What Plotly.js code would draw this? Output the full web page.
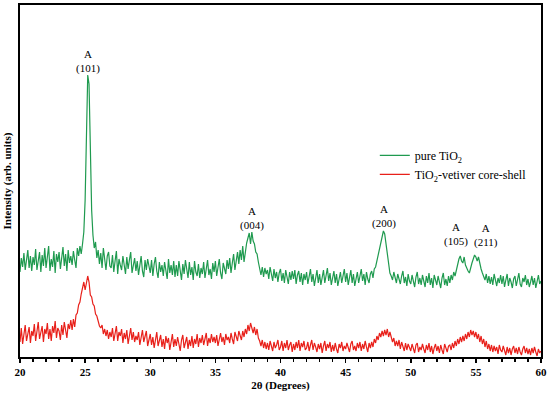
<!DOCTYPE html>
<html>
<head>
<meta charset="utf-8">
<script src="https://cdn.plot.ly/plotly-3.0.1.min.js"></script>
<style>html,body{margin:0;padding:0;background:#fff;}#chart{width:550px;height:396px;}</style>
</head>
<body>
<div id="chart"></div>
<script>
// 2θ scan grid: 20.0° to 60.0° in 0.1° steps
const scanStart = 20, scanStep = 0.1, scanCount = 401;
const twoTheta = Array.from({length: scanCount}, (_, i) => +(scanStart + i * scanStep).toFixed(1));

// pure TiO2 intensity (arb. units)
const pureTiO2 = [
  88,102,93,107,90,99,110,92,104,89,
  103,95,111,90,100,108,88,105,94,112,
  92,104,114,89,101,93,109,87,106,98,
  108,91,103,113,94,106,89,110,97,104,
  95,109,100,92,112,104,114,106,116,128,
  160,235,285,276,205,150,125,112,118,102,
  110,96,107,92,112,99,90,104,108,94,
  92,105,88,99,109,86,101,95,90,104,
  97,86,103,91,100,108,87,96,102,89,
  99,85,96,104,89,83,100,90,101,92,
  87,100,84,96,103,89,82,98,88,95,
  84,98,90,81,101,87,95,85,99,83,
  95,84,99,88,80,96,86,100,90,82,
  98,85,93,80,99,88,84,96,82,92,
  86,98,82,94,100,85,91,81,97,88,
  99,84,93,101,87,81,97,90,86,100,
  91,102,87,97,106,90,99,108,96,110,
  100,114,98,110,117,122,127,116,128,119,
  116,108,106,98,91,85,93,83,92,86,
  90,81,93,84,79,91,82,88,78,87,
  91,79,87,77,90,83,76,88,80,89,
  81,90,76,85,89,78,87,75,86,80,
  88,76,84,91,78,86,74,84,90,77,
  86,75,82,90,77,85,92,79,87,75,
  84,89,77,86,74,82,88,77,85,91,
  78,87,75,84,90,77,86,74,83,88,
  77,85,91,79,86,75,88,81,77,86,
  89,82,91,93,99,106,113,119,124,129,
  126,116,103,93,87,84,80,88,82,77,
  86,79,76,84,89,77,83,74,86,79,
  76,85,78,73,83,88,76,82,75,85,
  79,73,84,77,87,75,82,72,85,78,
  75,84,77,72,82,87,75,81,74,84,
  77,85,80,88,84,91,96,101,104,99,
  97,103,95,91,89,87,93,97,101,105,
  103,99,103,95,91,87,83,80,86,77,
  84,76,83,75,86,79,74,82,77,85,
  76,84,73,80,86,74,82,78,72,81,
  84,74,80,87,76,73,82,78,85,75,
  81,73,78,84,75,82,72,79,85,76,
  79
];

// TiO2-vetiver core-shell intensity (arb. units)
const coreShell = [
  18,32,16,28,35,19,25,33,17,29,
  24,36,19,30,38,21,28,34,18,31,
  26,37,21,31,19,34,27,39,22,32,
  29,20,35,25,38,30,22,36,31,40,
  30,41,33,45,47,55,58,66,71,78,
  70,76,84,78,65,63,56,54,46,44,
  39,34,32,35,26,31,24,30,21,28,
  23,32,19,27,34,19,28,24,31,17,
  27,21,30,16,25,32,20,28,18,24,
  20,28,15,25,30,18,23,29,14,22,
  26,15,23,12,21,28,14,20,25,13,
  21,11,24,17,22,10,19,26,13,21,
  14,23,16,9,20,25,12,18,23,11,
  20,14,24,12,21,16,26,13,22,17,
  25,15,21,27,14,22,17,26,18,23,
  17,25,14,22,27,18,23,15,26,20,
  23,17,27,21,16,28,22,19,29,24,
  20,29,23,31,26,35,29,37,31,27,
  33,25,31,22,19,14,20,12,18,11,
  17,10,19,13,9,18,12,15,20,10,
  13,19,9,17,12,20,10,15,18,8,
  16,10,18,12,20,9,17,13,19,10,
  12,18,9,15,20,10,17,13,8,16,
  11,17,7,14,19,9,16,12,18,8,
  15,9,17,11,7,16,12,18,9,14,
  11,17,12,8,16,19,10,14,9,17,
  12,18,9,16,11,19,13,8,17,12,
  18,13,21,17,24,20,27,23,29,24,
  30,25,31,23,28,21,18,22,14,19,
  14,20,11,18,13,9,17,10,16,12,
  9,16,11,7,15,17,8,13,10,16,
  11,7,15,10,17,8,14,6,12,16,
  9,14,7,15,10,6,16,11,8,14,
  15,10,17,12,19,14,21,16,23,18,
  24,19,26,21,28,23,30,25,29,23,
  28,21,26,18,24,16,21,13,19,11,
  16,9,15,8,14,9,13,6,15,10,
  8,14,9,5,13,7,12,5,11,14,
  7,12,6,13,8,5,11,14,7,12,
  6,11,5,12,7,13,8,4,11,7,
  9
];

// Peak labels (anatase planes)
const peakPhase = ["A", "A", "A", "A", "A"];
const peakPlanes = ["(101)", "(004)", "(200)", "(105)", "(211)"];
const peakLabelTwoTheta = [25.2, 37.8, 47.95, 53.45, 55.8];
const peakLabelY = [283, 126, 128, 110, 109];

const seriesNames = ["pure TiO<sub>2</sub>", "TiO<sub>2</sub>-vetiver core-shell"];
const xTickVals = [20, 25, 30, 35, 40, 45, 50, 55, 60];

const serif = "Liberation Serif, Times New Roman, serif";

const traces = [
  {x: twoTheta, y: pureTiO2, name: seriesNames[0], type: "scatter", mode: "lines",
   line: {color: "#1f9a4f", width: 1.2}},
  {x: twoTheta, y: coreShell, name: seriesNames[1], type: "scatter", mode: "lines",
   line: {color: "#e8201a", width: 1.2}}
];

const annotations = peakPlanes.map((p, i) => ({
  x: peakLabelTwoTheta[i], y: peakLabelY[i], xref: "x", yref: "y",
  text: peakPhase[i] + "<br>" + p, showarrow: false, yanchor: "bottom",
  font: {family: serif, size: 11, color: "#000"}
}));
annotations.push({
  x: -0.024, y: 0.5, xref: "paper", yref: "paper", textangle: -90,
  text: "Intensity (arb. units)", showarrow: false, xanchor: "center", yanchor: "middle",
  font: {family: serif, size: 11, color: "#000", weight: "bold"}
});

const layout = {
  width: 550, height: 396,
  margin: {l: 20, r: 9, t: 5, b: 39},
  paper_bgcolor: "#fff", plot_bgcolor: "#fff",
  showlegend: true,
  legend: {x: 0.681, y: 0.614, xanchor: "left", yanchor: "top",
           font: {family: serif, size: 12, color: "#000"},
           bgcolor: "rgba(0,0,0,0)", itemwidth: 30},
  xaxis: {range: [20, 60], tickvals: xTickVals, ticks: "outside", ticklen: 4, tickwidth: 1.5,
          tickcolor: "#000",
          minor: {dtick: 1, ticks: "outside", ticklen: 3, tickwidth: 1.5, tickcolor: "#000"},
          showline: true, mirror: true, linecolor: "#000", linewidth: 2,
          showgrid: false, zeroline: false,
          tickfont: {family: serif, size: 11, color: "#000", weight: "bold"},
          title: {text: "2θ (Degrees)", standoff: 4,
                  font: {family: serif, size: 11, color: "#000", weight: "bold"}}},
  yaxis: {range: [3, 355], showticklabels: false, ticks: "",
          showline: true, mirror: true, linecolor: "#000", linewidth: 2,
          showgrid: false, zeroline: false},
  annotations: annotations
};

Plotly.newPlot("chart", traces, layout, {displayModeBar: false, staticPlot: true});
</script>
</body>
</html>
